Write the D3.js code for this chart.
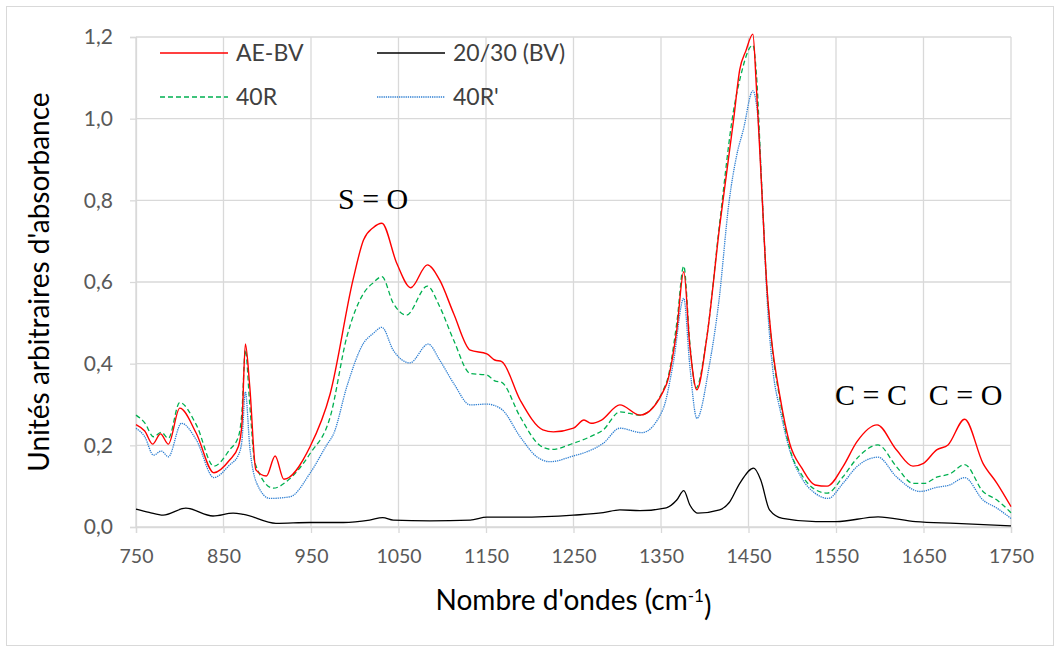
<!DOCTYPE html>
<html>
<head>
<meta charset="utf-8">
<script src="https://cdn.jsdelivr.net/npm/d3@7"></script>
<style>
  html, body { margin: 0; padding: 0; background: #fff; }
  svg { display: block; }
</style>
</head>
<body>
<svg id="chart" width="1060" height="648"></svg>
<script>
// ---------- DATA (wavenumber cm-1, absorbance) ----------
const seriesNames = ["AE-BV", "20/30 (BV)", "40R", "40R'"];
const xTicks = [750, 850, 950, 1050, 1150, 1250, 1350, 1450, 1550, 1650, 1750];
const yTicks = [0, 0.2, 0.4, 0.6, 0.8, 1.0, 1.2];

const aeBV = [[750,.251],[760,.235],[769,.203],[778,.228],[787,.203],[800,.291],[819,.229],[839,.133],[857,.164],[867,.197],[871,.25],[875,.448],[880,.344],[887,.14],[899,.125],[909,.174],[919,.117],[949,.197],[972,.327],[998,.605],[1010,.703],[1021,.733],[1031,.744],[1048,.646],[1064,.586],[1083,.642],[1097,.605],[1113,.523],[1132,.433],[1151,.424],[1160,.409],[1168,.405],[1189,.311],[1215,.238],[1227,.233],[1250,.242],[1262,.262],[1270,.254],[1282,.262],[1303,.299],[1326,.274],[1356,.348],[1368,.482],[1376,.625],[1383,.442],[1391,.336],[1402,.458],[1417,.736],[1433,.998],[1440,1.12],[1447,1.166],[1455,1.207],[1459,1.078],[1465,.833],[1471,.588],[1476,.466],[1486,.319],[1497,.205],[1511,.144],[1526,.103],[1540,.100],[1558,.148],[1574,.209],[1597,.250],[1619,.189],[1638,.149],[1650,.156],[1665,.189],[1678,.201],[1697,.264],[1718,.156],[1734,.107],[1750,.050]];

const bv2030 = [[750,.044],[765,.036],[781,.029],[807,.046],[838,.027],[861,.034],[873,.031],[910,.009],[949,.011],[987,.011],[1017,.017],[1032,.023],[1044,.017],[1086,.015],[1132,.017],[1151,.024],[1189,.024],[1250,.029],[1284,.035],[1303,.042],[1326,.040],[1356,.047],[1368,.066],[1376,.089],[1383,.054],[1392,.034],[1417,.042],[1428,.06],[1440,.107],[1456,.144],[1464,.115],[1474,.042],[1489,.021],[1527,.013],[1550,.013],[1598,.025],[1641,.013],[1687,.009],[1750,.003]];

const r40 = [[750,.274],[760,.255],[770,.221],[779,.232],[787,.217],[800,.305],[819,.250],[839,.149],[857,.189],[867,.221],[871,.28],[875,.434],[880,.30],[886,.156],[907,.095],[924,.115],[949,.180],[972,.270],[991,.466],[1010,.572],[1021,.598],[1031,.613],[1044,.548],[1059,.519],[1083,.590],[1097,.540],[1113,.458],[1132,.376],[1151,.372],[1160,.358],[1168,.354],[1189,.270],[1211,.201],[1225,.190],[1250,.205],[1269,.221],[1284,.238],[1303,.282],[1326,.274],[1356,.352],[1368,.499],[1376,.639],[1383,.45],[1390,.340],[1402,.46],[1417,.744],[1433,1.021],[1440,1.095],[1455,1.180],[1459,1.111],[1465,.84],[1471,.588],[1476,.46],[1486,.311],[1497,.193],[1511,.127],[1526,.092],[1540,.083],[1558,.123],[1574,.168],[1598,.201],[1619,.148],[1638,.107],[1651,.107],[1665,.122],[1680,.130],[1697,.153],[1718,.087],[1734,.066],[1750,.035]];

const r40p = [[750,.242],[760,.221],[770,.176],[779,.186],[787,.172],[802,.254],[819,.213],[839,.121],[857,.152],[867,.176],[871,.21],[875,.331],[880,.197],[888,.107],[903,.070],[926,.074],[949,.132],[968,.201],[976,.229],[991,.344],[1010,.450],[1021,.474],[1031,.489],[1044,.433],[1063,.402],[1084,.448],[1097,.409],[1113,.352],[1132,.299],[1151,.301],[1168,.288],[1189,.221],[1208,.172],[1223,.160],[1250,.174],[1265,.184],[1284,.205],[1303,.242],[1328,.231],[1352,.287],[1364,.401],[1376,.560],[1383,.393],[1391,.266],[1405,.393],[1416,.55],[1428,.80],[1437,.915],[1444,.972],[1455,1.068],[1461,.997],[1466,.793],[1472,.531],[1477,.401],[1487,.278],[1497,.189],[1511,.119],[1526,.083],[1541,.070],[1558,.107],[1574,.148],[1598,.171],[1619,.123],[1646,.087],[1665,.097],[1680,.103],[1697,.121],[1718,.066],[1734,.046],[1750,.021]];

const annotations = [["S = O", 1021, 0.78], ["C = C", 1590, 0.298], ["C = O", 1698, 0.298]];

// ---------- LAYOUT ----------
const svg = d3.select("#chart");
const L = 136, R = 1011, T = 37, B = 527;
const x = d3.scaleLinear().domain([750, 1750]).range([L, R]);
const y = d3.scaleLinear().domain([0, 1.2]).range([B, T]);
const grid = "#d9d9d9";
const FONT = "Lato, 'Open Sans', sans-serif";

// chart border
svg.append("rect").attr("x", 6.5).attr("y", 6.5).attr("width", 1047).attr("height", 639)
  .attr("fill", "none").attr("stroke", grid).attr("stroke-width", 1);

// gridlines
svg.append("g").selectAll("line").data(xTicks).join("line")
  .attr("x1", d => x(d)).attr("x2", d => x(d)).attr("y1", T).attr("y2", B)
  .attr("stroke", grid).attr("stroke-width", 1.3);
svg.append("g").selectAll("line").data(yTicks).join("line")
  .attr("x1", L).attr("x2", R).attr("y1", d => y(d)).attr("y2", d => y(d))
  .attr("stroke", grid).attr("stroke-width", 1.3);

// axes
const fmt = d => d3.format(".1f")(d).replace(".", ",");
const xAxis = d3.axisBottom(x).tickValues(xTicks).tickSize(6).tickPadding(12).tickFormat(d3.format("d"));
const yAxis = d3.axisLeft(y).tickValues(yTicks).tickSize(6).tickPadding(17).tickFormat(fmt);
const gx = svg.append("g").attr("transform", `translate(0,${B})`).call(xAxis);
const gy = svg.append("g").attr("transform", `translate(${L},0)`).call(yAxis);
[gx, gy].forEach(g => {
  g.select(".domain").attr("stroke", grid).attr("stroke-width", 1.3);
  g.selectAll(".tick line").attr("stroke", grid).attr("stroke-width", 1.3);
  g.selectAll(".tick text").attr("fill", "#595959").style("font-family", FONT);
});
gx.selectAll(".tick text").attr("dy", "0.9em").style("font-size", "19.5px");
gy.selectAll(".tick text").style("font-size", "21px");

// lines
const line = d3.line().x(d => x(d[0])).y(d => y(d[1])).curve(d3.curveMonotoneX);
const styles = [
  {data: aeBV,  color: "#ff0000", w: 1.4, dash: null},
  {data: bv2030, color: "#000000", w: 1.3, dash: null},
  {data: r40,   color: "#00b050", w: 1.3, dash: "5,3"},
  {data: r40p,  color: "#2e7fd2", w: 1.3, dash: "1.3,0.9"}
];
const drawOrder = [1, 3, 2, 0];
drawOrder.forEach(i => {
  const s = styles[i];
  svg.append("path").datum(s.data).attr("d", line)
    .attr("fill", "none").attr("stroke", s.color).attr("stroke-width", s.w)
    .attr("stroke-dasharray", s.dash);
});

// legend
const legPos = [[160, 53], [377, 53], [160, 97], [377, 97]];
seriesNames.forEach((name, i) => {
  const s = styles[i], p = legPos[i];
  svg.append("line").attr("x1", p[0]).attr("x2", p[0] + 68).attr("y1", p[1]).attr("y2", p[1])
    .attr("stroke", s.color).attr("stroke-width", s.w).attr("stroke-dasharray", s.dash);
  svg.append("text").attr("x", p[0] + 76).attr("y", p[1]).attr("dy", "0.35em")
    .attr("fill", "#404040").style("font-family", FONT).style("font-size", "23px").text(name);
});

// annotations
svg.append("g").selectAll("text").data(annotations).join("text")
  .attr("x", d => x(d[1])).attr("y", d => y(d[2])).attr("text-anchor", "middle")
  .style("font-family", "'Liberation Serif', 'Times New Roman', serif").style("font-size", "30px")
  .attr("fill", "#000").text(d => d[0]);

// axis titles
const xt = svg.append("text").attr("x", (L + R) / 2).attr("y", 610).attr("text-anchor", "middle")
  .attr("fill", "#000").style("font-family", FONT).style("font-size", "28px");
xt.append("tspan").text("Nombre d'ondes (cm");
xt.append("tspan").attr("dy", "-0.5em").style("font-size", "17px").text("-1");
xt.append("tspan").attr("dy", "0.5em").text(")");

svg.append("text").attr("transform", `translate(49,${(T + B) / 2}) rotate(-90)`)
  .attr("text-anchor", "middle").attr("fill", "#000")
  .style("font-family", FONT).style("font-size", "28px").text("Unités arbitraires d'absorbance");
</script>
</body>
</html>
